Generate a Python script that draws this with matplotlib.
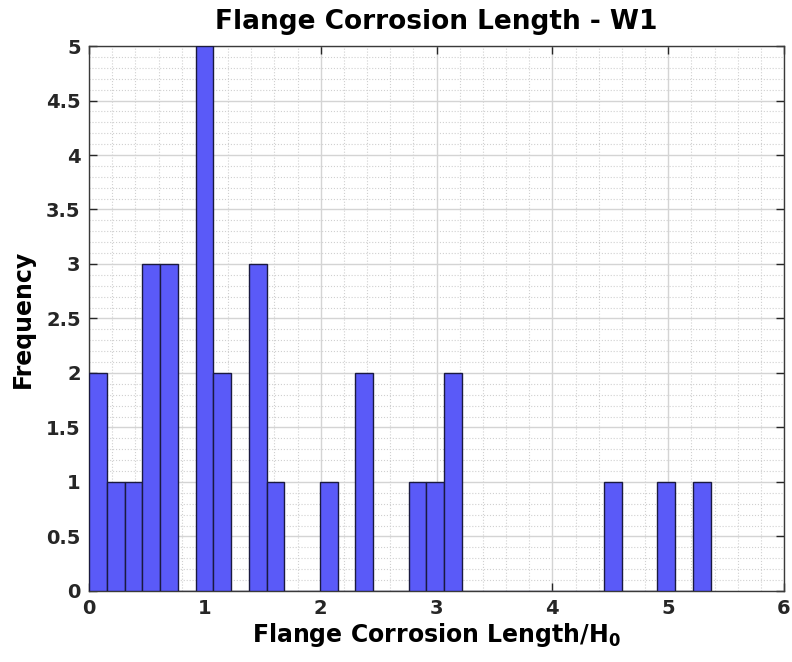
import numpy as np
import matplotlib
matplotlib.use('Agg')
import matplotlib.pyplot as plt
from matplotlib.ticker import MultipleLocator

# histogram counts (35 equal-width bins starting at 0)
bin_width = 0.1533
counts = [2, 1, 1, 3, 3, 0, 5, 2, 0, 3, 1, 0, 0, 1, 0, 2, 0, 0, 1, 1, 2,
          0, 0, 0, 0, 0, 0, 0, 0, 1, 0, 0, 1, 0, 1]
x_ticks = [0, 1, 2, 3, 4, 5, 6]
y_ticks = [0, 0.5, 1, 1.5, 2, 2.5, 3, 3.5, 4, 4.5, 5]
y_tick_labels = ['0', '0.5', '1', '1.5', '2', '2.5', '3', '3.5', '4', '4.5', '5']

plt.rcParams['font.family'] = ['DejaVu Sans']
plt.rcParams['font.weight'] = 'bold'

fig = plt.figure(figsize=(7.92, 6.62), dpi=100)
ax = fig.add_axes([0.1124, 0.1073, 0.8775, 0.8232])

edges = np.arange(len(counts)) * bin_width
ax.bar(edges, counts, width=bin_width, align='edge',
       color='#5a5af8', edgecolor='#1a1a40', linewidth=1.0, zorder=3)

ax.set_xlim(0, 6)
ax.set_ylim(0, 5)
ax.set_xticks(x_ticks)
ax.set_yticks(y_ticks)
ax.set_yticklabels(y_tick_labels)
ax.xaxis.set_minor_locator(MultipleLocator(0.2))
ax.yaxis.set_minor_locator(MultipleLocator(0.1))

ax.grid(which='major', color='#d4d4d4', linewidth=1.0, zorder=0)
ax.grid(which='minor', color='#d0d0d0', linewidth=0.8, linestyle=':', zorder=0)
ax.set_axisbelow(True)

ax.tick_params(which='major', direction='in', length=6, width=1.0,
               top=True, right=True, labelsize=14, colors='#262626', pad=6)
ax.tick_params(which='minor', length=0)
for lbl in ax.get_xticklabels() + ax.get_yticklabels():
    lbl.set_fontweight('bold')
for sp in ax.spines.values():
    sp.set_color('#3a3a3a')
    sp.set_linewidth(1.0)

ax.set_title('Flange Corrosion Length - W1', fontsize=19, fontweight='bold', pad=12)
ax.set_xlabel('Flange Corrosion Length/H$_\\mathbf{0}$', fontsize=17, fontweight='bold', labelpad=2)
ax.set_ylabel('Frequency', fontsize=17, fontweight='bold', labelpad=8)

fig.savefig('out.png', dpi=100, facecolor='white')
